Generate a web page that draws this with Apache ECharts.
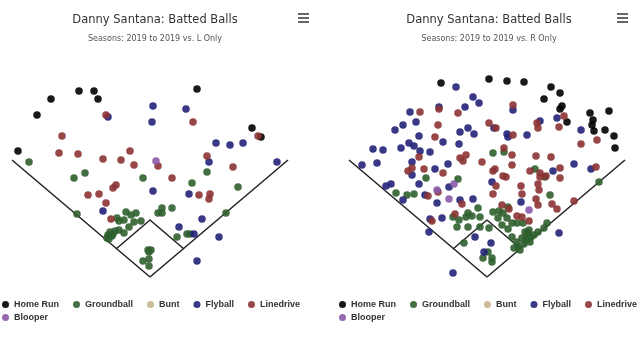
<!DOCTYPE html>
<html><head><meta charset="utf-8">
<script src="https://cdn.jsdelivr.net/npm/echarts@6/dist/echarts.min.js"></script>
<style>html,body{margin:0;padding:0;background:#fff}#c{width:640px;height:350px}</style>
</head><body><div id="c"></div>
<script>
// Field coordinates (home plate at 0,0)
const foulLine = [[-138,117],[0,0],[138,117]];
const infield = [[-34,28],[0,57],[34,28]];
const categories = ['Home Run','Groundball','Bunt','Flyball','Linedrive','Blooper'];
const colors = ['#000000','#2f5f2f','#c4b48c','#22227a','#8c3333','#8a5aa8'];

// vs. L
const L_homeRun = [[-132,126],[-113,162],[-99,178],[-71,186],[-56,186],[-52,178],[47,188],[102,149],[111,140]];
const L_linedrive = [[-44,162],[-88,141],[-91,124],[-72,123],[-47,118],[-29,117],[-20,126],[-16,112],[8,111],[22,99],[43,155],[57,121],[83,110],[108,141],[-34,92],[-37,89],[-62,82],[-51,83],[-44,74],[-39,58],[49,82],[60,83],[59,78]];
const L_flyball = [[-42,160],[3,171],[2,155],[36,168],[66,134],[80,132],[93,134],[59,115],[127,115],[3,86],[39,83],[-47,66],[52,58],[29,50],[44,43],[69,40],[47,16]];
const L_blooper = [[6,116]];
const L_bunt = [];
const L_groundball = [[-121,115],[-76,99],[-65,104],[-7,99],[57,105],[42,94],[88,90],[-73,63],[12,69],[22,69],[8,64],[12,64],[76,64],[-24,65],[-19,62],[-14,64],[-33,59],[-31,56],[-26,57],[-16,55],[-9,56],[-21,50],[-31,47],[-26,44],[-40,45],[-42,42],[-38,41],[-43,39],[-37,43],[-35,46],[-41,38],[27,40],[37,43],[40,43],[-2,27],[1,27],[-1,25],[-7,16],[-1,18],[-1,11]];

// vs. R
const R_homeRun = [[-46,194],[2,198],[20,196],[37,195],[64,190],[73,184],[57,178],[75,171],[73,168],[80,155],[103,164],[122,166],[106,157],[105,152],[107,146],[118,147],[127,141],[128,129]];
const R_flyball = [[-31,190],[-14,180],[-8,174],[-48,170],[26,167],[-77,165],[-22,170],[-71,155],[-84,152],[-92,147],[-68,141],[-78,134],[-73,131],[-86,129],[-114,128],[-104,127],[-67,126],[-57,125],[-44,135],[-28,133],[-27,145],[-19,149],[-13,143],[7,149],[21,140],[20,143],[40,142],[53,156],[70,159],[94,147],[-110,114],[-125,112],[-75,115],[-75,102],[-52,108],[-39,113],[66,106],[87,113],[104,108],[-101,91],[-96,93],[-68,93],[-38,90],[5,95],[-84,77],[-62,82],[-50,74],[-27,77],[-14,78],[34,75],[-57,58],[-45,59],[-58,45],[-12,40],[4,34],[-3,25],[72,44],[-34,4]];
const R_linedrive = [[-67,165],[-48,168],[-29,164],[26,172],[-49,152],[2,154],[9,149],[26,142],[50,154],[51,149],[72,150],[77,161],[-52,140],[17,129],[-68,120],[-21,122],[-27,119],[-24,116],[-5,115],[25,122],[25,112],[49,121],[64,120],[94,133],[110,137],[-63,108],[-79,106],[-75,109],[-44,104],[6,106],[8,108],[16,101],[19,100],[43,106],[53,104],[53,100],[73,109],[73,99],[109,110],[9,91],[34,91],[51,93],[52,87],[35,83],[6,83],[-59,81],[-49,85],[49,78],[65,73],[70,68],[87,76],[-25,73],[15,72],[51,72],[22,68],[-32,63],[30,61],[35,60],[42,56],[-55,56],[59,101]];
const R_blooper = [[-50,87],[-33,93],[-38,78],[42,67]];
const R_bunt = [];
const R_groundball = [[6,124],[17,125],[-61,99],[-29,98],[48,108],[58,100],[-91,84],[-80,82],[-73,83],[63,82],[112,95],[60,54],[57,49],[-19,64],[-15,61],[-21,60],[-34,60],[-28,57],[-30,50],[-19,50],[-23,34],[-7,60],[-9,69],[-7,50],[2,49],[6,65],[12,66],[16,64],[21,70],[11,59],[20,59],[15,52],[25,54],[21,48],[30,54],[36,54],[25,40],[30,35],[27,29],[31,30],[33,27],[38,45],[41,44],[40,41],[44,40],[47,42],[42,47],[51,45],[1,25],[5,19],[-4,19],[5,15],[35,39],[39,37],[43,35],[37,33]];

const panels = [
  {sub:'Seasons: 2019 to 2019 vs. L Only', cx:150, gl:0, data:[L_homeRun,L_groundball,L_bunt,L_flyball,L_linedrive,L_blooper]},
  {sub:'Seasons: 2019 to 2019 vs. R Only', cx:484, gl:337, data:[R_homeRun,R_groundball,R_bunt,R_flyball,R_linedrive,R_blooper]}
];

const chart = echarts.init(document.getElementById('c'), null, {renderer:'canvas'});
const option = {
  animation:false,
  title: [], grid: [], xAxis: [], yAxis: [], series: [], legend: [], graphic: []
};
const legText = {fontFamily:'Liberation Sans', fontSize:9, fontWeight:'bold', color:'#333'};
panels.forEach((p, i) => {
  option.title.push({
    text:'Danny Santana: Batted Balls', subtext:p.sub, left:p.cx, top:9, textAlign:'center', itemGap:9,
    textStyle:{fontFamily:'DejaVu Sans', fontSize:11.5, fontWeight:'normal', color:'#333'},
    subtextStyle:{fontFamily:'DejaVu Sans', fontSize:8, color:'#555'}
  });
  option.grid.push({left:p.gl, width:300, top:47, height:230});
  option.xAxis.push({type:'value', gridIndex:i, min:-150, max:150, show:false});
  option.yAxis.push({type:'value', gridIndex:i, min:0, max:230, show:false});
  option.series.push({type:'line', xAxisIndex:i, yAxisIndex:i, data:foulLine, symbol:'none', silent:true, lineStyle:{color:'#222', width:1.5}, z:1});
  option.series.push({type:'line', xAxisIndex:i, yAxisIndex:i, data:infield, symbol:'none', silent:true, lineStyle:{color:'#222', width:1.5}, z:1});
  categories.forEach((c, k) => {
    option.series.push({name:c, type:'scatter', xAxisIndex:i, yAxisIndex:i, data:p.data[k], symbolSize:7.5,
      itemStyle:{color:colors[k], opacity:0.9}, z:2});
  });
  option.legend.push({
    data:categories.slice(0,5), left:p.gl + 2, top:300, width:330, itemGap:14, icon:'circle', itemWidth:7, itemHeight:7,
    textStyle:legText, padding:0
  });
  option.legend.push({
    data:categories.slice(5), left:p.gl + 2, top:313, itemGap:14, icon:'circle', itemWidth:7, itemHeight:7,
    textStyle:legText, padding:0
  });
  const hx = p.gl === 0 ? 298 : 617;
  [13,17,21].forEach(y => option.graphic.push({type:'rect', shape:{x:hx, y:y, width:11, height:2}, style:{fill:'#666'}}));
});
option.color = colors;
chart.setOption(option);
</script></body></html>
